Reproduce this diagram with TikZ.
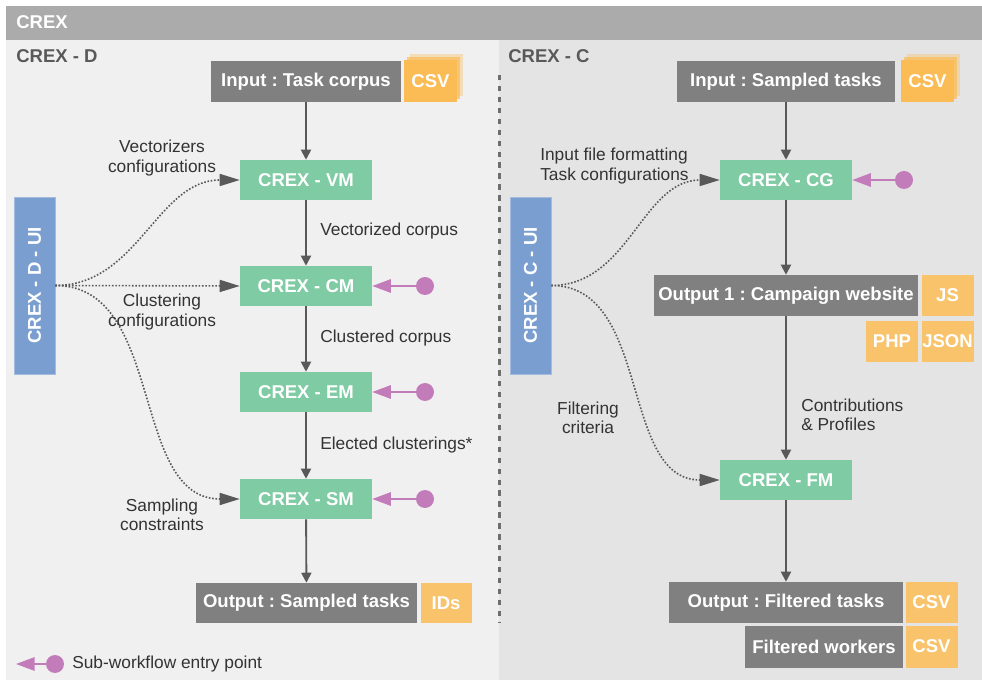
\documentclass[tikz,border=0pt]{standalone}
\usepackage{fontspec}
\setmainfont{Liberation Sans}
\frenchspacing
\usepackage{tikz}
\usetikzlibrary{arrows.meta,positioning}
\definecolor{barGray}{HTML}{ABABAB}
\definecolor{panelD}{HTML}{F0F0F0}
\definecolor{panelC}{HTML}{E4E4E4}
\definecolor{boxGray}{HTML}{808080}
\definecolor{modGreen}{HTML}{7FCBA4}
\definecolor{uiBlue}{HTML}{7B9ED0}
\definecolor{fmtOrange}{HTML}{F8C36B}
\definecolor{csvOrange}{HTML}{FBBC55}
\definecolor{entryPurple}{HTML}{C27CB9}
\definecolor{lineGray}{HTML}{595959}
\definecolor{noteGray}{HTML}{333333}
\definecolor{dashGray}{HTML}{6E6E6E}
\tikzset{
bfont/.style={font=\bfseries\fontsize{13.9}{16}\selectfont}, % bold box text
nfont/.style={font=\fontsize{13}{14.4}\selectfont}, % plain text
title/.style={bfont, text=lineGray, inner sep=0pt},
datanode/.style={bfont, fill=boxGray, text=white, minimum height=30.75pt, inner sep=0pt},
module/.style={bfont, fill=modGreen, text=white, minimum width=99pt, minimum height=30pt, inner sep=0pt},
format/.style={bfont, fill=fmtOrange, text=white, minimum width=39pt, minimum height=30.75pt, inner sep=0pt},
csvstack/.style={bfont, fill=csvOrange, text=white, minimum width=39.75pt, minimum height=31.5pt, inner sep=0pt},
uibox/.style={bfont, fill=uiBlue, draw=uiBlue!70!white, text=white, minimum width=30.75pt, minimum height=132.75pt, inner sep=0pt},
entry/.style={circle, fill=entryPurple, minimum size=13.5pt, inner sep=0pt},
note/.style={nfont, text=noteGray, inner sep=0pt},
flow/.style={draw=lineGray, line width=1.4pt, -{Triangle[length=7.5pt,width=7.5pt]}},
config/.style={draw=lineGray, line width=1.2pt, dash pattern=on 1.2pt off 1.3pt, -{Triangle[length=15pt,width=9pt]}},
entryarrow/.style={draw=entryPurple, line width=1.6pt, -{Triangle[length=14pt,width=10pt]}},
divider/.style={draw=dashGray, line width=2.2pt, dash pattern=on 4pt off 4.2pt},
}

\begin{document}
\begin{tikzpicture}[x=0.75pt,y=0.75pt,yscale=-1,xscale=1]
\useasboundingbox (0,0) rectangle (982,680);
%Panels
\fill[barGray] (6,6) rectangle (982,40);
\fill[panelD] (6,40) rectangle (499,680);
\fill[panelC] (499,40) rectangle (982,680);
\draw[divider] (499.5,75) -- (499.5,622);
\node[title, text=white, anchor=west] (crex) at (16,22) {CREX};
\node[title, anchor=west] (crexd) at (16,56) {CREX - D};
\node[title, anchor=west] (crexc) at (508,56) {CREX - C};
%CREX - D column
\node[datanode, minimum width=142.5pt] (intask) at (306,81.5) {Input : Task corpus};
\node[csvstack, fill opacity=.35] (incsvc) at (436.5,75) {};
\node[csvstack, fill opacity=.7] (incsvb) at (433.5,78) {};
\node[csvstack] (incsv) at (430.5,81) {CSV};
\node[module] (vm) at (306,180) {CREX - VM};
\node[module] (cm) at (306,286) {CREX - CM};
\node[module] (em) at (306,392) {CREX - EM};
\node[module] (sm) at (306,499) {CREX - SM};
\node[datanode, minimum width=165.75pt, minimum height=30pt] (outsamp) at (306.5,603) {Output : Sampled tasks};
\node[format, minimum width=38.25pt, minimum height=30pt, right=2.25pt of outsamp] (ids) {IDs};
%Straight Lines
\draw[flow] (intask) -- (vm);
\draw[flow] (vm) -- (cm);
\draw[flow] (cm) -- (em);
\draw[flow] (em) -- (sm);
\draw[flow] (sm) -- (outsamp);
\node[note, anchor=west] (vcorpus) at (320,231) {Vectorized corpus};
\node[note, anchor=west] (ccorpus) at (320,338) {Clustered corpus};
\node[note, anchor=west] (eclust) at (320,445) {Elected clusterings*};
%Entry points
\node[entry] (cmentry) at (425,286) {};
\node[entry] (ementry) at (425,392) {};
\node[entry] (smentry) at (425,499) {};
\draw[entryarrow] (cmentry) -- (cm);
\draw[entryarrow] (ementry) -- (em);
\draw[entryarrow] (smentry) -- (sm);
%UI and configurations
\node[uibox] (dui) at (34.5,285.5) {\rotatebox{90}{CREX - D - UI}};
\draw[config] (dui.east) to[out=0,in=180] (vm.west);
\draw[config] (dui.east) -- (cm.west);
\draw[config] (dui.east) to[out=0,in=180] (sm.west);
\node[note, align=center] (vconf) at (162,158) {Vectorizers\\configurations};
\node[note, align=center] (cconf) at (162,312) {Clustering\\configurations};
\node[note, align=center] (sconf) at (162,515) {Sampling\\constraints};
%Legend
\node[entry] (legdot) at (55,664) {};
\coordinate (legtip) at (16,664);
\draw[entryarrow] (legdot) -- (legtip);
\node[note, anchor=west] (legtext) at (72,664) {Sub-workflow entry point};
%CREX - C column
\node[datanode, minimum width=163.5pt] (insamp) at (786,81.5) {Input : Sampled tasks};
\node[csvstack, fill opacity=.35] (insampc) at (933.5,75) {};
\node[csvstack, fill opacity=.7] (insampb) at (930.5,78) {};
\node[csvstack] (insampcsv) at (927.5,81) {CSV};
\node[module] (cg) at (786,180) {CREX - CG};
\node[datanode, minimum width=198pt] (out1) at (786,295.5) {Output 1 : Campaign website};
\node[format, right=2.25pt of out1] (js) {JS};
\node[format, below=3pt of js] (json) {JSON};
\node[format, left=2.25pt of json] (php) {PHP};
\node[module] (fm) at (786,480) {CREX - FM};
\node[datanode, minimum width=175.5pt] (outfilt) at (786,602.5) {Output : Filtered tasks};
\node[format, right=1.5pt of outfilt] (csvt) {CSV};
\node[datanode, minimum width=118.5pt, minimum height=31.5pt, below=1.5pt of outfilt.south east, anchor=north east] (filtw) {Filtered workers};
\node[format, minimum height=31.5pt, right=1.5pt of filtw] (csvw) {CSV};
%Straight Lines
\draw[flow] (insamp) -- (cg);
\draw[flow] (cg) -- (out1);
\draw[flow] (out1) -- (fm);
\draw[flow] (fm) -- (outfilt);
\node[note, align=left, anchor=west] (contrib) at (801,415) {Contributions\\\& Profiles};
\node[entry] (cgentry) at (904,180) {};
\draw[entryarrow] (cgentry) -- (cg);
\node[uibox] (cui) at (530.5,285.5) {\rotatebox{90}{CREX - C - UI}};
\draw[config] (cui.east) to[out=0,in=180] (cg.west);
\draw[config] (cui.east) to[out=0,in=180] (fm.west);
\node[note, align=left, anchor=west] (fconf) at (540,166) {Input file formatting\\Task configurations};
\node[note, align=center] (fcrit) at (588,418) {Filtering\\criteria};
\end{tikzpicture}
\end{document}
